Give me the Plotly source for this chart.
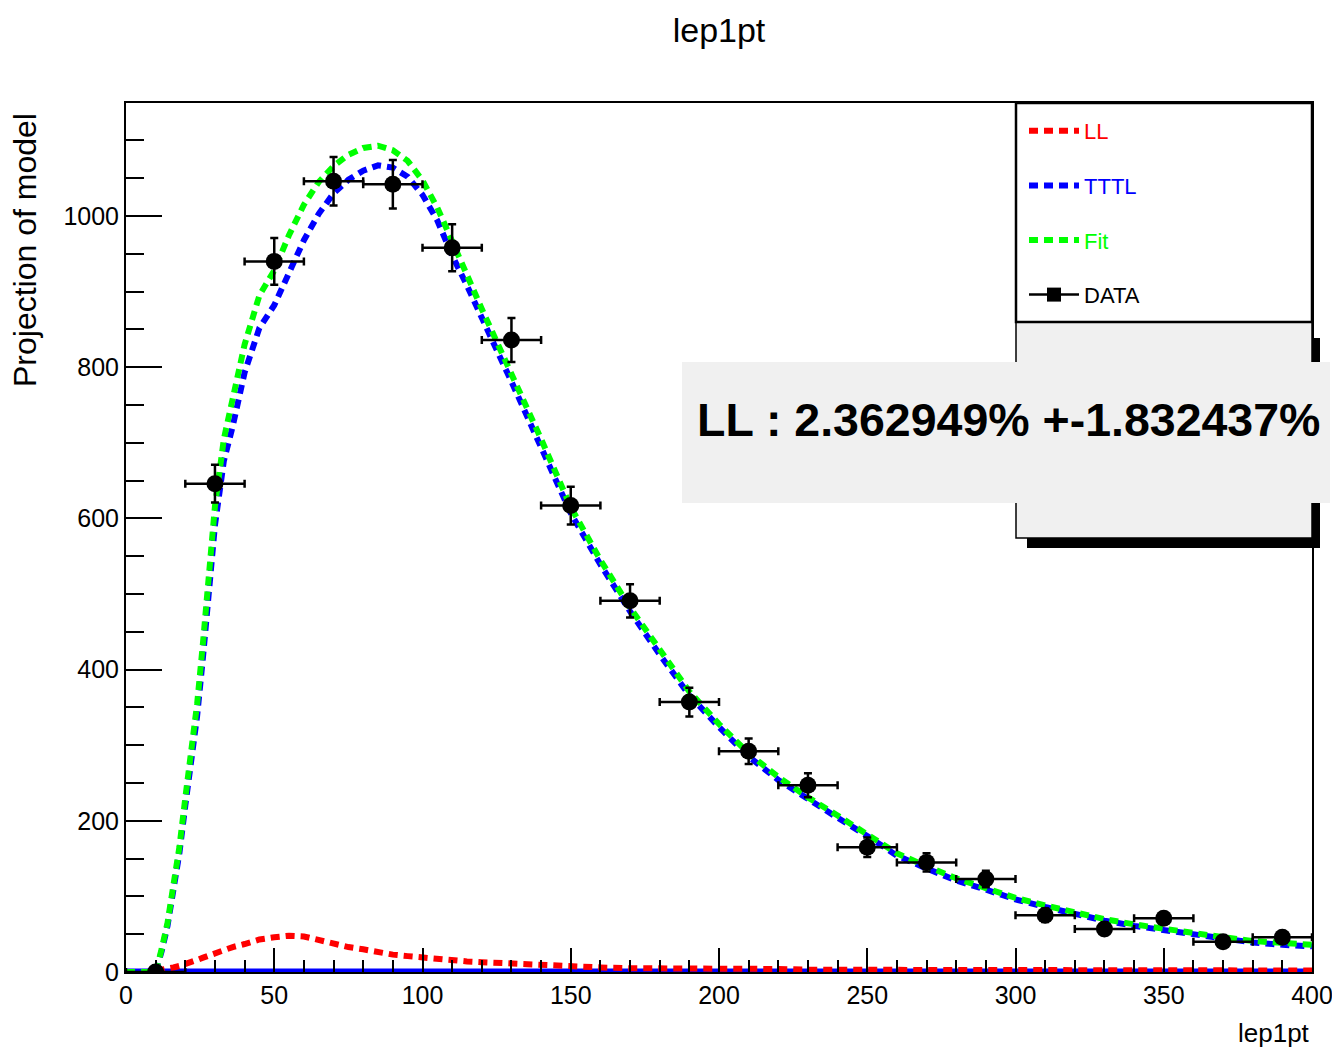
import plotly.graph_objects as go

# ---------------- data ----------------
data_x = [10, 30, 50, 70, 90, 110, 130, 150, 170, 190, 210, 230, 250, 270, 290, 310, 330, 350, 370, 390]
data_y = [0, 646, 940, 1046, 1042, 958, 836, 617, 491, 357, 292, 247, 165, 145, 123, 75, 57, 71, 40, 46]
data_ey = [0, 25, 31, 32, 32, 31, 29, 25, 22, 19, 17, 16, 13, 12, 11, 9, 8, 8, 6, 7]
data_ex = [10] * 20

curve_x = [0, 10, 12, 14, 16, 18, 20, 22, 24, 26, 28, 30, 33, 36, 40, 45, 50, 55, 60, 65, 70, 75, 80, 85,
           90, 95, 100, 105, 110, 115, 120, 125, 130, 140, 150, 160, 170, 180, 190, 200, 210, 220, 230,
           240, 250, 260, 270, 280, 290, 300, 310, 320, 330, 340, 350, 360, 370, 380, 390, 400]
fit_y = [0, 0, 30, 65, 115, 165, 230, 290, 355, 437, 533, 616, 705, 755, 830, 895, 928, 975, 1015, 1045,
         1066, 1081, 1090, 1093, 1087, 1073, 1047, 1011, 964, 922, 877, 835, 792, 705, 615, 545, 482,
         425, 371, 328, 289, 258, 231, 207, 183, 157, 140, 124, 111, 98, 88, 78, 70, 63, 57, 51, 46,
         41, 38, 36]
tttl_y = [0, 0, 27, 61, 109, 157, 220, 277, 339, 418, 511, 591, 676, 722, 793, 852, 882, 927, 968, 1003,
          1030, 1048, 1060, 1067, 1064, 1052, 1028, 994, 948, 908, 864, 823, 781, 696, 607, 539, 477,
          420, 366, 324, 285, 254, 228, 204, 180, 154, 137, 121, 109, 96, 86, 76, 68, 61, 55, 49, 44,
          39, 36, 34]
ll_y = [0, 0, 3, 4, 6, 8, 10, 13, 16, 19, 22, 25, 29, 33, 37, 43, 46, 48, 47, 42, 36, 33, 30, 26, 23,
        21, 19, 17, 16, 14, 13, 12, 11, 9, 8, 6, 5, 5, 5, 4, 4, 4, 3, 3, 3, 3, 3, 3, 2, 2, 2, 2, 2, 2,
        2, 2, 2, 2, 2, 2]
baseline_x = [0, 400]
baseline_y = [0, 0]

title_text = "lep1pt"
x_title = "lep1pt"
y_title = "Projection of model"
stat_text = "LL : 2.362949% +-1.832437%"

NARROW = "Liberation Sans Narrow, Liberation Sans, Arial, sans-serif"
REG = "Liberation Sans, Arial, sans-serif"

# ---------------- layout helpers ----------------
W, H = 1332, 1052
ML, MR, MT, MB = 126, 20, 103, 80
PW, PH = W - ML - MR, H - MT - MB


def fx(p):
    return (p - ML) / PW


def fy(p):
    return (H - MB - p) / PH


fig = go.Figure()

fig.add_trace(go.Scatter(x=baseline_x, y=baseline_y, mode="lines",
                         line=dict(color="#0000ff", width=7), showlegend=False, hoverinfo="skip"))

dash = "9px,6px"
fig.add_trace(go.Scatter(x=curve_x, y=ll_y, mode="lines", name='<span style="color:#ff0000">LL</span>',
                         line=dict(color="#ff0000", width=6, dash=dash), legendgroup="a"))
fig.add_trace(go.Scatter(x=curve_x, y=tttl_y, mode="lines", name='<span style="color:#0000ff">TTTL</span>',
                         line=dict(color="#0000ff", width=6, dash=dash), legendgroup="b"))
fig.add_trace(go.Scatter(x=curve_x, y=fit_y, mode="lines", name='<span style="color:#00ff00">Fit</span>',
                         line=dict(color="#00ff00", width=6, dash=dash), legendgroup="c"))

fig.add_trace(go.Scatter(
    x=data_x, y=data_y, mode="markers", showlegend=False,
    marker=dict(color="black", size=17, symbol="circle"),
    error_x=dict(type="data", array=data_ex, color="black", thickness=2.5, width=4),
    error_y=dict(type="data", array=data_ey, color="black", thickness=2.5, width=4),
))
fig.add_trace(go.Scatter(x=[None], y=[None], mode="lines+markers", name="DATA",
                         line=dict(color="black", width=2.5),
                         marker=dict(symbol="square", size=14, color="black"), legendgroup="d"))

shapes = [
    # pave shadow
    dict(type="rect", xref="paper", yref="paper", x0=fx(1027), x1=fx(1320), y0=fy(548), y1=fy(338),
         fillcolor="black", line=dict(width=0), layer="above"),
    # pave
    dict(type="rect", xref="paper", yref="paper", x0=fx(1016), x1=fx(1312), y0=fy(538), y1=fy(322),
         fillcolor="#f0f0f0", line=dict(color="black", width=1.5), layer="above"),
    # legend box
    dict(type="rect", xref="paper", yref="paper", x0=fx(1016), x1=fx(1312), y0=fy(322), y1=fy(103),
         fillcolor="white", line=dict(color="black", width=2.5), layer="above"),
    # stat box
    dict(type="rect", xref="paper", yref="paper", x0=fx(682), x1=fx(1330), y0=fy(503), y1=fy(362),
         fillcolor="#f0f0f0", line=dict(width=0), layer="above"),
]

annotations = [
    dict(text=stat_text, xref="paper", yref="paper", x=fx(1008), y=fy(420), showarrow=False,
         xanchor="center", yanchor="middle",
         font=dict(family=NARROW, size=46.5, color="black", weight="bold")),
    dict(text=x_title, xref="paper", yref="paper", x=1.0, y=fy(1033), showarrow=False,
         xanchor="right", yanchor="middle", font=dict(family=NARROW, size=26, color="black")),
    dict(text=y_title, xref="paper", yref="paper", x=fx(25), y=fy(250), showarrow=False,
         textangle=-90, xanchor="center", yanchor="middle",
         font=dict(family=REG, size=32, color="black")),
]

axis_common = dict(showgrid=False, zeroline=False, showline=True, linecolor="black", linewidth=2,
                   mirror=True, ticks="inside", tickcolor="black", tickwidth=2,
                   ticklabeloverflow="allow", automargin=False,
                   tickfont=dict(family=NARROW, size=25, color="black"))

fig.update_layout(
    width=W, height=H,
    margin=dict(l=ML, r=MR, t=MT, b=MB, autoexpand=False),
    paper_bgcolor="white", plot_bgcolor="white",
    title=dict(text=title_text, xref="paper", x=0.5, xanchor="center", y=1 - 30 / H, yanchor="middle",
               font=dict(family=NARROW, size=34, color="black")),
    xaxis=dict(range=[0, 400], dtick=50, ticklen=24,
               minor=dict(dtick=10, ticklen=12, ticks="inside", tickcolor="black", tickwidth=2),
               **axis_common),
    yaxis=dict(range=[0, 1149.5], dtick=200, ticklen=36,
               minor=dict(dtick=50, ticklen=18, ticks="inside", tickcolor="black", tickwidth=2),
               **axis_common),
    showlegend=True,
    legend=dict(x=fx(1024), y=fy(110), xanchor="left", yanchor="top", bgcolor="rgba(0,0,0,0)",
                borderwidth=0, font=dict(family=NARROW, size=22, color="black"),
                tracegroupgap=23, itemwidth=50),
    shapes=shapes,
    annotations=annotations,
)

fig.write_html("out.html")
